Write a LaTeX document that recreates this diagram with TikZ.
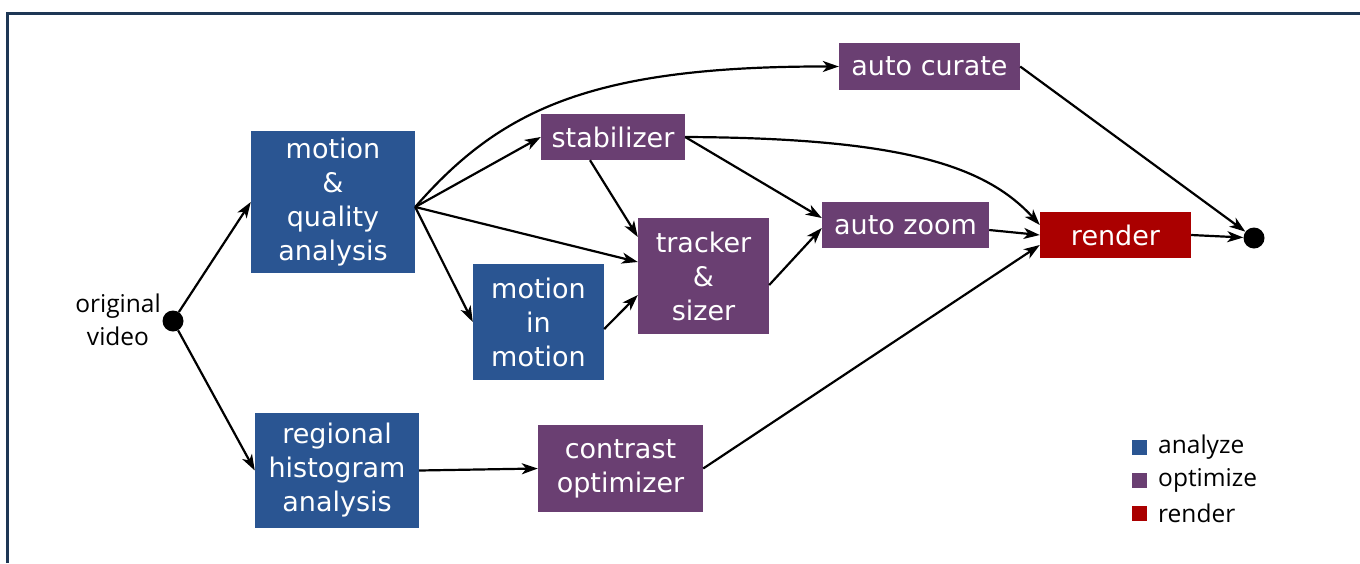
\documentclass[tikz,border=0pt]{standalone}
\usepackage{fontspec}
\setmainfont{DejaVu Sans}
\newfontfamily\legfont{Open Sans}
\usetikzlibrary{arrows.meta,calc}
\definecolor{anblue}{RGB}{42,85,146}
\definecolor{oppurple}{RGB}{106,63,114}
\definecolor{rdred}{RGB}{170,0,0}
\definecolor{framecol}{RGB}{30,55,85}
\begin{document}
\begin{tikzpicture}[x=1pt,y=-1pt,
  box/.style={inner sep=0pt,text=white,align=center,font=\fontsize{27}{34}\selectfont},
  analyze/.style={box,fill=anblue},
  optim/.style={box,fill=oppurple},
  rend/.style={box,fill=rdred},
  conn/.style={line width=2.2pt,-{Stealth[length=16pt,width=11pt,inset=4.5pt]}},
  dotnode/.style={circle,fill=black,inner sep=0pt,minimum size=21pt},
  leg/.style={font=\legfont\fontsize{24.5}{28}\selectfont,anchor=west,inner sep=0pt},
  legsq/.style={inner sep=0pt,minimum size=15pt}]
\useasboundingbox (0,0) rectangle (1360,563);
\draw[framecol,line width=3pt] (7,563) -- (7,13) -- (1360,13);
% nodes
\node[analyze,minimum width=164pt,minimum height=142pt] (mqa) at (333,202) {motion\\\&\\quality\\analysis};
\node[analyze,minimum width=131pt,minimum height=116pt] (mim) at (538.5,322) {motion\\in\\motion};
\node[analyze,minimum width=164pt,minimum height=115pt] (rha) at (337,470.5) {regional\\histogram\\analysis};
\node[optim,minimum width=144pt,minimum height=46pt] (stab) at (613,137) {stabilizer};
\node[optim,minimum width=181pt,minimum height=47pt] (cur) at (929.5,66.5) {auto curate};
\node[optim,minimum width=131pt,minimum height=116pt] (trk) at (703.5,276) {tracker\\\&\\sizer};
\node[optim,minimum width=167pt,minimum height=46pt] (zm) at (905.5,225) {auto zoom};
\node[rend,minimum width=151pt,minimum height=46pt] (ren) at (1115.5,235) {render};
\node[optim,minimum width=165pt,minimum height=87pt] (con) at (620.5,468.5) {contrast\\optimizer};
\node[dotnode] (start) at (173,321) {};
\node[dotnode] (stop) at (1254,238) {};
\node[font=\legfont\fontsize{24.5}{33}\selectfont,align=center,inner sep=0pt] (ov) at (118,320) {original\\video};
% edges
\draw[conn] (start) -- (mqa.west);
\draw[conn] (start) -- (rha.west);
\coordinate (mqo) at ($(mqa.east)+(0,5)$);
\draw[conn] (mqo) .. controls (500,110) and (590,66) .. (cur.west);
\draw[conn] (mqo) -- (stab.west);
\draw[conn] (mqo) -- ([yshift=14pt]trk.west);
\draw[conn] (mqo) -- (mim.west);
\draw[conn] ([xshift=-23pt]stab.south) -- ([yshift=39pt]trk.west);
\draw[conn] (stab.east) -- ([yshift=7pt]zm.west);
\draw[conn] (stab.east) .. controls (900,138) and (985,165) .. ([yshift=10pt]ren.west);
\draw[conn] ([yshift=-7pt]mim.east) -- ([yshift=-19pt]trk.west);
\draw[conn] ([yshift=-9pt]trk.east) -- ([yshift=-3pt]zm.west);
\draw[conn] ([yshift=-5pt]zm.east) -- (ren.west);
\draw[conn] (cur.east) -- (stop);
\draw[conn] (ren.east) -- (stop);
\draw[conn] (rha.east) -- (con.west);
\draw[conn] (con.east) -- ([yshift=-10pt]ren.west);
% legend
\node[legsq,fill=anblue] (la) at (1139,447.5) {};
\node[legsq,fill=oppurple] (lo) at (1139,480.5) {};
\node[legsq,fill=rdred] (lr) at (1139,513.5) {};
\node[leg] (lta) at (1158,447) {analyze};
\node[leg] (lto) at (1158,480) {optimize};
\node[leg] (ltr) at (1158,513) {render};
\end{tikzpicture}
\end{document}
